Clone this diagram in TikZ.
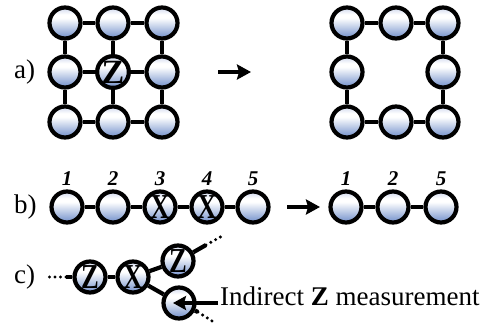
\documentclass[tikz,border=0pt]{standalone}
\usepackage{fontspec}
\setmainfont{Liberation Serif}
\usepackage{graphicx}
\usetikzlibrary{arrows.meta}
\definecolor{qbdeep}{RGB}{112,142,202}
\definecolor{qbtop}{RGB}{205,214,236}
\pgfdeclareverticalshading{qball}{100bp}{color(0bp)=(qbdeep); color(25bp)=(qbdeep); color(58bp)=(white); color(64bp)=(white); color(75bp)=(qbtop); color(100bp)=(qbtop)}
\tikzset{
    >=Latex,
    qb_node/.style={
        circle,
        draw=black,
        line width=4.2pt,
        minimum size=31pt,
        inner sep=0pt,
        shading=qball
    },
    qb_link/.style={
        line width=4.2pt
    },
    qb_dots/.style={
        line width=3.4pt,
        line cap=round,
        dash pattern=on 0pt off 5.5pt
    },
    qb_shift/.style={
        -{Stealth[length=14pt, width=15pt, inset=2pt]},
        line width=4.5pt
    },
    qb_pointer/.style={
        -{Stealth[length=13pt, width=14pt, inset=2pt]},
        line width=4.5pt
    },
    qb_tag/.style={
        anchor=west,
        inner sep=0pt,
        font=\fontsize{27}{27}\selectfont
    },
    qb_index/.style={
        font=\bfseries\itshape\fontsize{21}{21}\selectfont
    },
    qb_op/.style={
        font=\bfseries\fontsize{34}{34}\selectfont
    },
    qb_op_tall/.style={
        font=\bfseries\fontsize{28}{28}\selectfont
    }
}
\newcommand{\tallop}[1]{\scalebox{0.95}[1.25]{#1}}

\begin{document}
\begin{tikzpicture}[x=1pt, y=-1pt]
\useasboundingbox (0,0) rectangle (487,322);

% a) cluster before the Z measurement
\node[qb_tag] (tagA) at (14,72) {a)};
\foreach \r/\y in {1/23,2/72,3/122}
  \foreach \c/\x in {1/65,2/113,3/162}
    {\ifnum\r\c=22 \else \node[qb_node] (A\r\c) at (\x,\y) {}; \fi}
\node[qb_node, qb_op] (A22) at (113,72) {Z};
\foreach \a/\b in {A11/A12, A12/A13, A21/A22, A22/A23, A31/A32, A32/A33,
                   A11/A21, A21/A31, A12/A22, A22/A32, A13/A23, A23/A33}
  \draw[qb_link] (\a) -- (\b);

\coordinate (arrA1) at (218,72);
\coordinate (arrA2) at (251,72);
\draw[qb_shift] (arrA1) -- (arrA2);

% a) cluster after
\foreach \r/\y in {1/23,2/72,3/122}
  \foreach \c/\x in {1/347,2/396,3/443}
    {\ifnum\r\c=22 \else \node[qb_node] (B\r\c) at (\x,\y) {}; \fi}
\foreach \a/\b in {B11/B12, B12/B13, B31/B32, B32/B33,
                   B11/B21, B21/B31, B13/B23, B23/B33}
  \draw[qb_link] (\a) -- (\b);

% b) linear chain
\node[qb_tag] (tagB) at (14,207) {b)};
\node[qb_node, label={[qb_index]above:1}] (C1) at (67,207) {};
\node[qb_node, label={[qb_index]above:2}] (C2) at (113,207) {};
\node[qb_node, qb_op_tall, label={[qb_index]above:3}] (C3) at (160,207) {\tallop{X}};
\node[qb_node, qb_op_tall, label={[qb_index]above:4}] (C4) at (207,207) {\tallop{X}};
\node[qb_node, label={[qb_index]above:5}] (C5) at (253,207) {};
\foreach \a/\b in {C1/C2, C2/C3, C3/C4, C4/C5}
  \draw[qb_link] (\a) -- (\b);

\coordinate (arrB1) at (287,207);
\coordinate (arrB2) at (320,207);
\draw[qb_shift] (arrB1) -- (arrB2);

\node[qb_node, label={[qb_index]above:1}] (D1) at (346,207) {};
\node[qb_node, label={[qb_index]above:2}] (D2) at (393,207) {};
\node[qb_node, label={[qb_index]above:5}] (D5) at (441,207) {};
\draw[qb_link] (D1) -- (D2);
\draw[qb_link] (D2) -- (D5);

% c) branch with indirect measurement
\node[qb_tag] (tagC) at (14,277) {c)};
\node[qb_node, qb_op_tall] (E1) at (90,277) {\tallop{Z}};
\node[qb_node, qb_op_tall] (E2) at (133,277) {\tallop{X}};
\node[qb_node, qb_op_tall] (E3) at (178,261) {\tallop{Z}};
\node[qb_node] (E4) at (179,303) {};
\draw[qb_link] (E1) -- (E2);
\draw[qb_link] (E2) -- (E3);
\draw[qb_link] (E2) -- (E4);

\coordinate (eL) at (66,277);
\coordinate (eL0) at (47,277);
\coordinate (eU) at (206,245);
\coordinate (eU0) at (224,235);
\coordinate (eD) at (198,312);
\coordinate (eD0) at (212,321);
\draw[qb_link] (eL) -- (E1);
\draw[qb_dots] (eL) -- (eL0);
\draw[qb_link] (E3) -- (eU);
\draw[qb_dots] (eU) -- (eU0);
\draw[qb_link] (E4) -- (eD);
\draw[qb_dots] (eD) -- (eD0);

\node[anchor=base west, inner sep=2pt, font=\fontsize{27}{27}\selectfont] (ind)
  at (218,305) {Indirect \textbf{Z} measurement};
\draw[qb_pointer] (ind.west |- E4) -- ([xshift=-6pt]E4.center);

\end{tikzpicture}
\end{document}
